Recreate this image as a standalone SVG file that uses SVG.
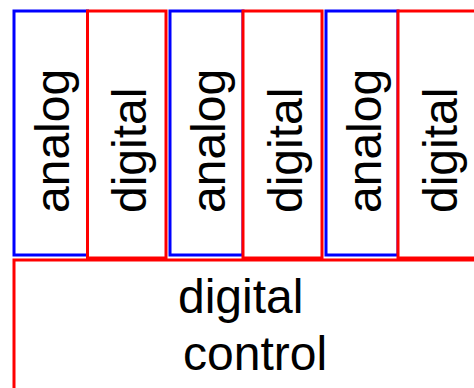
<svg xmlns="http://www.w3.org/2000/svg" width="474" height="388" viewBox="0 0 474 388">
  <style>
    .analog { fill: #ffffff; stroke: #0000ff; stroke-width: 3; }
    .digital { fill: #ffffff; stroke: #ff0000; stroke-width: 3; }
    .lbl { font-family: "Liberation Sans", Arial, sans-serif; font-size: 48px; fill: #000000; }
  </style>
  <rect width="474" height="388" fill="#ffffff"/>
  <g id="analog1">
    <rect class="analog" x="14" y="11" width="73.5" height="244"/>
    <text class="lbl" transform="translate(69,213) rotate(-90)">analog</text>
  </g>
  <g id="digital1">
    <rect class="digital" x="87.5" y="11" width="78.5" height="247"/>
    <text class="lbl" transform="translate(146,213) rotate(-90)">digital</text>
  </g>
  <g id="analog2">
    <rect class="analog" x="170" y="11" width="73" height="244"/>
    <text class="lbl" transform="translate(225,213) rotate(-90)">analog</text>
  </g>
  <g id="digital2">
    <rect class="digital" x="243" y="11" width="79" height="247"/>
    <text class="lbl" transform="translate(302,213) rotate(-90)">digital</text>
  </g>
  <g id="analog3">
    <rect class="analog" x="326" y="11" width="72" height="244"/>
    <text class="lbl" transform="translate(381,213) rotate(-90)">analog</text>
  </g>
  <g id="digital3">
    <rect class="digital" x="398" y="11" width="80" height="247"/>
    <text class="lbl" transform="translate(457,213) rotate(-90)">digital</text>
  </g>
  <g id="control">
    <rect class="digital" x="14" y="260" width="470" height="140"/>
    <text class="lbl" x="178" y="313">digital</text>
    <text class="lbl" x="183" y="370">control</text>
  </g>
  <g id="connectors"/>
</svg>
